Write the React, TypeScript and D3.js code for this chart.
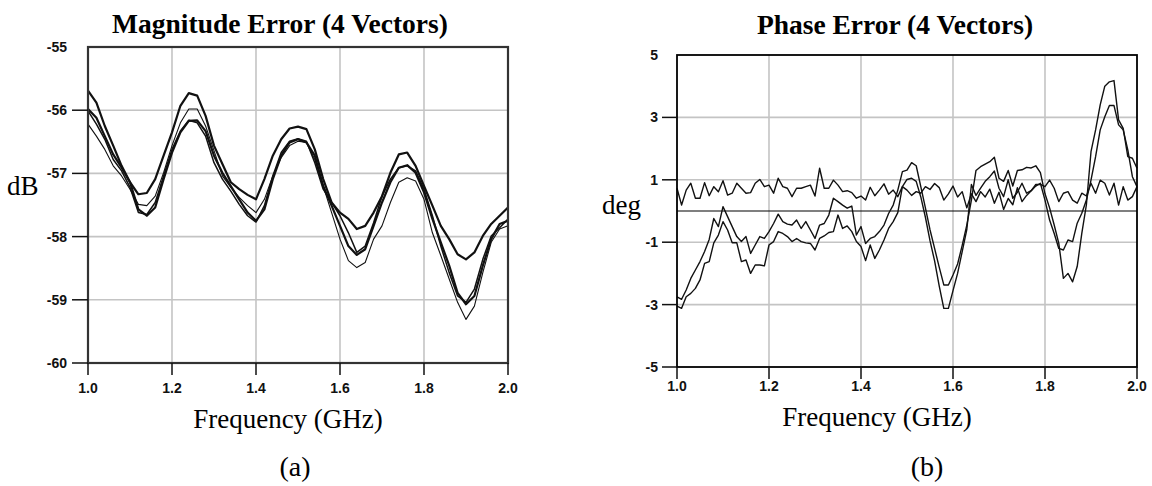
import React from "react";
import * as d3 from "d3";

// ---------- DATA ----------
const magFreq = d3.range(51).map((i) => +(1 + i * 0.02).toFixed(2));
const magS1 = [-55.69, -55.88, -56.25, -56.56, -56.88, -57.14, -57.33, -57.31, -57.09, -56.72, -56.35, -55.93, -55.73, -55.77, -56.09, -56.56, -56.85, -57.14, -57.25, -57.34, -57.41, -57.09, -56.72, -56.46, -56.29, -56.26, -56.30, -56.62, -57.09, -57.46, -57.62, -57.72, -57.88, -57.83, -57.62, -57.36, -56.99, -56.70, -56.67, -56.88, -57.20, -57.51, -57.83, -58.04, -58.28, -58.36, -58.25, -57.99, -57.80, -57.67, -57.54];
const magS2 = [-55.98, -56.12, -56.41, -56.70, -56.91, -57.14, -57.57, -57.67, -57.54, -57.09, -56.67, -56.35, -56.17, -56.16, -56.33, -56.72, -56.99, -57.20, -57.41, -57.62, -57.75, -57.57, -57.09, -56.72, -56.51, -56.46, -56.51, -56.72, -57.20, -57.51, -57.83, -58.15, -58.29, -58.20, -57.83, -57.46, -57.14, -56.91, -56.87, -56.99, -57.30, -57.72, -58.09, -58.46, -58.89, -59.07, -58.94, -58.46, -58.04, -57.80, -57.75];
const magS3 = [-56.22, -56.41, -56.62, -56.88, -57.04, -57.25, -57.49, -57.51, -57.36, -56.99, -56.56, -56.20, -55.98, -55.98, -56.25, -56.64, -57.04, -57.22, -57.38, -57.51, -57.62, -57.41, -57.04, -56.75, -56.56, -56.49, -56.51, -56.78, -57.20, -57.62, -58.04, -58.38, -58.49, -58.41, -58.04, -57.83, -57.46, -57.14, -57.07, -57.12, -57.41, -57.94, -58.30, -58.67, -59.04, -59.31, -59.10, -58.57, -58.09, -57.88, -57.83];
const magS4 = [-56.01, -56.22, -56.46, -56.78, -56.96, -57.22, -57.62, -57.65, -57.46, -57.04, -56.62, -56.33, -56.16, -56.20, -56.41, -56.83, -57.09, -57.28, -57.49, -57.67, -57.77, -57.51, -57.04, -56.67, -56.49, -56.45, -56.49, -56.83, -57.25, -57.46, -57.67, -57.94, -58.25, -58.15, -57.78, -57.36, -57.09, -56.91, -56.88, -56.96, -57.25, -57.67, -58.15, -58.57, -58.94, -59.04, -58.83, -58.36, -57.99, -57.86, -57.72];

const phaseFreq = d3.range(101).map((i) => +(1 + i * 0.01).toFixed(2));
const phaseT = [
  0.73, 0.19, 0.67, 0.89, 0.41, 0.41, 0.91, 0.49, 0.78, 0.62,
  0.97, 0.51, 0.57, 0.89, 0.73, 0.57, 0.59, 0.89, 1.01, 0.78,
  0.83, 0.57, 1.05, 0.78, 0.73, 0.46, 0.73, 0.73, 0.78, 0.83,
  0.48, 1.37, 0.73, 0.73, 0.99, 0.83, 0.62, 0.65, 0.59, 0.41,
  0.48, 0.35, 0.76, 0.49, 0.67, 0.87, 0.54, 0.67, 0.46, 0.78,
  0.67, 0.50, 0.62, 0.57, 0.78, 0.69, 0.88, 0.75, 0.35, 0.55,
  0.80, 0.45, 0.62, 0.10, 0.55, 0.30, 0.62, 0.45, 0.70, 0.25,
  0.60, 0.05, 0.40, 0.20, 0.75, 0.30, 0.50, 0.65, 0.85, 0.85,
  0.78, 0.99, 0.73, 0.30, 0.57, 0.62, 0.35, 0.25, 0.57, 0.48,
  0.89, 0.57, 0.99, 0.89, 0.51, 0.89, 0.19, 0.78, 0.35, 0.46,
  0.78,
];
const phaseL1 = [
  -2.75, -2.83, -2.53, -2.16, -1.89, -1.62, -1.30, -0.91, -0.24, -0.50,
  0.14, -0.18, -0.50, -0.82, -0.98, -0.82, -1.36, -1.09, -0.82, -0.88,
  -0.66, -0.40, -0.10, -0.34, -0.42, -0.45, -0.29, -0.56, -0.34, -0.61,
  -0.88, -0.45, -0.40, -0.13, 0.41, 0.30, 0.19, 0.09, 0.16, -0.77,
  -0.50, -1.04, -0.88, -0.82, -0.66, -0.45, -0.08, 0.19, 0.67, 1.26,
  1.31, 1.55, 1.45, 0.78, 0.10, -0.60, -1.20, -1.80, -2.37, -2.37,
  -2.05, -1.70, -1.10, -0.45, 0.35, 1.30, 1.42, 1.50, 1.58, 1.72,
  1.05, 0.95, 1.30, 0.80, 1.30, 1.32, 1.40, 1.38, 1.45, 1.23,
  0.55, 0.10, -0.45, -1.04, -2.16, -2.00, -2.27, -1.78, -0.72, 0.20,
  1.90, 2.60, 3.40, 4.00, 4.14, 4.18, 2.92, 2.65, 1.74, 1.69,
  1.37,
];
const phaseL2 = [
  -3.05, -3.12, -2.75, -2.64, -2.48, -2.21, -1.68, -1.62, -1.02, -0.77,
  -0.34, -0.61, -1.02, -1.02, -1.62, -1.57, -2.00, -1.73, -1.73, -1.76,
  -1.09, -0.98, -0.66, -0.72, -0.82, -0.98, -0.88, -0.98, -1.02, -1.04,
  -1.25, -0.88, -0.80, -0.69, -0.66, -0.13, -0.56, -0.48, -0.66, -0.98,
  -1.14, -1.59, -1.09, -1.52, -1.25, -0.93, -0.56, -0.34, -0.05, 0.78,
  1.01, 1.05, 0.95, 0.45, -0.20, -0.95, -1.60, -2.40, -3.12, -3.12,
  -2.55, -2.00, -1.30, -0.60, 0.85, 0.50, 0.73, 0.95, 1.10, 1.28,
  0.73, 0.46, 1.00, 0.41, 0.60, 0.89, 0.57, 0.65, 0.80, 0.89,
  0.35, -0.29, -0.72, -1.20, -1.25, -0.93, -0.98, -0.39, -0.07, 0.35,
  0.99, 1.74, 2.60, 3.02, 3.38, 3.38, 2.76, 2.60, 1.96, 1.10,
  0.78,
];

const freqTicks = [1.0, 1.2, 1.4, 1.6, 1.8, 2.0];
const magTicks = [-55, -56, -57, -58, -59, -60];
const phaseTicks = [5, 3, 1, -1, -3, -5];

// ---------- COMPONENTS ----------
type Series = { values: number[]; width: number };

type PanelProps = {
  x0: number; x1: number; y0: number; y1: number;
  freqs: number[];
  yDomain: [number, number];
  yTicks: number[];
  series: Series[];
  zeroLine?: boolean;
  frameColor: string;
  frameWidth: number;
  title: string; titleX: number; titleY: number;
  yLabel: string; yLabelX: number; yLabelY: number;
  xLabelX: number; xLabelY: number;
  xTickLabelY: number;
  yTickLabelX: number;
  tickLeft: number;
  letter: string; letterX: number; letterY: number;
};

const serif = "'Liberation Serif', 'DejaVu Serif', serif";
const sans = "'Liberation Sans', Arial, sans-serif";

function Panel(p: PanelProps) {
  const x = d3.scaleLinear().domain([1, 2]).range([p.x0, p.x1]);
  const y = d3.scaleLinear().domain(p.yDomain).range([p.y1, p.y0]);
  const line = d3
    .line<number>()
    .x((_, i) => x(p.freqs[i]))
    .y((d) => y(d));
  const topVal = p.yDomain[1];
  return (
    <g>
      {freqTicks.slice(1, -1).map((t) => (
        <line key={"gx" + t} x1={x(t)} x2={x(t)} y1={p.y0} y2={p.y1} stroke="#c4c4c4" strokeWidth={1.6} />
      ))}
      {p.yTicks.filter((t) => t !== p.yDomain[0] && t !== p.yDomain[1]).map((t) => (
        <line key={"gy" + t} x1={p.x0} x2={p.x1} y1={y(t)} y2={y(t)} stroke="#c4c4c4" strokeWidth={1.6} />
      ))}
      {p.zeroLine && (
        <line x1={p.x0} x2={p.x1} y1={y(0)} y2={y(0)} stroke="#000" strokeWidth={1.2} />
      )}
      <g>
        {p.series.map((s, k) => (
          <path key={k} d={line(s.values) || ""} fill="none" stroke="#111" strokeWidth={s.width} strokeLinejoin="round" />
        ))}
      </g>
      <rect x={p.x0} y={p.y0} width={p.x1 - p.x0} height={p.y1 - p.y0} fill="none" stroke={p.frameColor} strokeWidth={p.frameWidth} />
      {p.yTicks.map((t) => (
        <g key={"yt" + t}>
          {t !== topVal && (
            <line x1={p.tickLeft} x2={p.x0} y1={y(t)} y2={y(t)} stroke="#111" strokeWidth={1.5} />
          )}
          <text x={p.yTickLabelX} y={y(t)} dy="0.36em" textAnchor="end" fontFamily={sans} fontWeight="bold" fontSize={14} fill="#111">
            {t}
          </text>
        </g>
      ))}
      {freqTicks.map((t) => (
        <g key={"xt" + t}>
          <line x1={x(t)} x2={x(t)} y1={p.y1} y2={p.y1 + 12} stroke="#111" strokeWidth={1.5} />
          <text x={x(t)} y={p.xTickLabelY} dy="0.36em" textAnchor="middle" fontFamily={sans} fontWeight="bold" fontSize={14} fill="#111">
            {t.toFixed(1)}
          </text>
        </g>
      ))}
      <text x={p.titleX} y={p.titleY} textAnchor="middle" fontFamily={serif} fontWeight="bold" fontSize={27.5} fill="#000">
        {p.title}
      </text>
      <text x={p.yLabelX} y={p.yLabelY} textAnchor="start" fontFamily={serif} fontSize={27} fill="#000">
        {p.yLabel}
      </text>
      <text x={p.xLabelX} y={p.xLabelY} textAnchor="middle" fontFamily={serif} fontSize={27} fill="#000">
        Frequency (GHz)
      </text>
      <text x={p.letterX} y={p.letterY} textAnchor="middle" fontFamily={serif} fontSize={28} fill="#000">
        {p.letter}
      </text>
    </g>
  );
}

export default function App() {
  return (
    <div style={{ position: "fixed", left: 0, top: 0, width: 1152, height: 486, background: "#fff" }}>
      <svg width={1152} height={486} viewBox="0 0 1152 486" style={{ display: "block" }}>
        <rect width={1152} height={486} fill="#fff" />
        <Panel
          x0={88} x1={508} y0={47} y1={363}
          freqs={magFreq}
          yDomain={[-60, -55]}
          yTicks={magTicks}
          series={[
            { values: magS1, width: 2.2 },
            { values: magS2, width: 2.2 },
            { values: magS3, width: 1.1 },
            { values: magS4, width: 1.5 },
          ]}
          frameColor="#333"
          frameWidth={2.2}
          title="Magnitude Error (4 Vectors)" titleX={280} titleY={33}
          yLabel="dB" yLabelX={7} yLabelY={195}
          xLabelX={288} xLabelY={428}
          xTickLabelY={388}
          yTickLabelX={67}
          tickLeft={72}
          letter="(a)" letterX={295} letterY={476}
        />
        <Panel
          x0={677} x1={1137} y0={55} y1={367}
          freqs={phaseFreq}
          yDomain={[-5, 5]}
          yTicks={phaseTicks}
          series={[
            { values: phaseT, width: 1.4 },
            { values: phaseL1, width: 1.4 },
            { values: phaseL2, width: 1.4 },
          ]}
          zeroLine
          frameColor="#000"
          frameWidth={1.8}
          title="Phase Error (4 Vectors)" titleX={895} titleY={34}
          yLabel="deg" yLabelX={602} yLabelY={214}
          xLabelX={877} xLabelY={426}
          xTickLabelY={386}
          yTickLabelX={658}
          tickLeft={662}
          letter="(b)" letterX={927} letterY={476}
        />
      </svg>
    </div>
  );
}
